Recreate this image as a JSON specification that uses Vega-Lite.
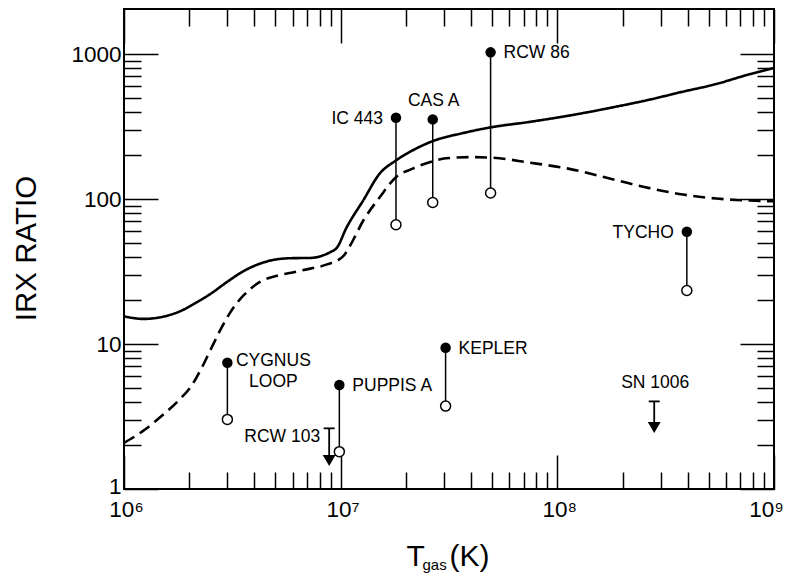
{
  "$schema": "https://vega.github.io/schema/vega-lite/v6.json",
  "width": 650,
  "height": 480,
  "autosize": {"type": "none"},
  "padding": {"left": 124, "top": 9, "right": 16, "bottom": 87},
  "background": "white",
  "config": {
    "view": {"stroke": "black", "strokeWidth": 2},
    "font": "Liberation Sans",
    "axis": {
      "grid": false,
      "domainColor": "black",
      "domainWidth": 2,
      "tickColor": "black",
      "tickWidth": 1.5,
      "labelColor": "black",
      "titleColor": "black",
      "labelFont": "Liberation Sans",
      "titleFont": "Liberation Sans",
      "titleFontWeight": "normal",
      "labelFlush": false,
      "labelOverlap": false
    }
  },
  "datasets": {
    "curves": [
      {"curve": "solid", "T": 1e6, "ratio": 15.5},
      {"curve": "solid", "T": 1.23e6, "ratio": 14.9},
      {"curve": "solid", "T": 1.76e6, "ratio": 16.5},
      {"curve": "solid", "T": 2.18e6, "ratio": 19.5},
      {"curve": "solid", "T": 2.51e6, "ratio": 22.2},
      {"curve": "solid", "T": 2.99e6, "ratio": 26.8},
      {"curve": "solid", "T": 3.56e6, "ratio": 31.8},
      {"curve": "solid", "T": 4.26e6, "ratio": 35.9},
      {"curve": "solid", "T": 5.08e6, "ratio": 38.4},
      {"curve": "solid", "T": 6.05e6, "ratio": 39.1},
      {"curve": "solid", "T": 7.23e6, "ratio": 39.2},
      {"curve": "solid", "T": 8.34e6, "ratio": 41.0},
      {"curve": "solid", "T": 8.95e6, "ratio": 43.0},
      {"curve": "solid", "T": 9.6e6, "ratio": 46.1},
      {"curve": "solid", "T": 1.064e7, "ratio": 63.5},
      {"curve": "solid", "T": 1.268e7, "ratio": 97.2},
      {"curve": "solid", "T": 1.51e7, "ratio": 149},
      {"curve": "solid", "T": 1.8e7, "ratio": 184.5},
      {"curve": "solid", "T": 2.15e7, "ratio": 216.6},
      {"curve": "solid", "T": 2.66e7, "ratio": 250.7},
      {"curve": "solid", "T": 3.65e7, "ratio": 284.5},
      {"curve": "solid", "T": 4.95e7, "ratio": 312.4},
      {"curve": "solid", "T": 7.39e7, "ratio": 339.8},
      {"curve": "solid", "T": 1.132e8, "ratio": 376},
      {"curve": "solid", "T": 1.858e8, "ratio": 432.7},
      {"curve": "solid", "T": 2.64e8, "ratio": 483},
      {"curve": "solid", "T": 3.76e8, "ratio": 548},
      {"curve": "solid", "T": 5.36e8, "ratio": 618.6},
      {"curve": "solid", "T": 7.62e8, "ratio": 721.6},
      {"curve": "solid", "T": 1e9, "ratio": 800},
      {"curve": "dashed", "T": 1e6, "ratio": 2.08},
      {"curve": "dashed", "T": 1.25e6, "ratio": 2.57},
      {"curve": "dashed", "T": 1.49e6, "ratio": 3.19},
      {"curve": "dashed", "T": 1.78e6, "ratio": 4.06},
      {"curve": "dashed", "T": 2.05e6, "ratio": 5.16},
      {"curve": "dashed", "T": 2.27e6, "ratio": 6.73},
      {"curve": "dashed", "T": 2.52e6, "ratio": 9.25},
      {"curve": "dashed", "T": 2.8e6, "ratio": 12.7},
      {"curve": "dashed", "T": 3.1e6, "ratio": 16.6},
      {"curve": "dashed", "T": 3.57e6, "ratio": 21.7},
      {"curve": "dashed", "T": 4.26e6, "ratio": 26.9},
      {"curve": "dashed", "T": 5.09e6, "ratio": 29.6},
      {"curve": "dashed", "T": 6.07e6, "ratio": 31.3},
      {"curve": "dashed", "T": 7.24e6, "ratio": 33.1},
      {"curve": "dashed", "T": 8.65e6, "ratio": 35.4},
      {"curve": "dashed", "T": 1.031e7, "ratio": 40.5},
      {"curve": "dashed", "T": 1.104e7, "ratio": 47.5},
      {"curve": "dashed", "T": 1.27e7, "ratio": 70.8},
      {"curve": "dashed", "T": 1.514e7, "ratio": 102.8},
      {"curve": "dashed", "T": 1.8e7, "ratio": 141.5},
      {"curve": "dashed", "T": 2.15e7, "ratio": 162},
      {"curve": "dashed", "T": 2.66e7, "ratio": 182.4},
      {"curve": "dashed", "T": 3.06e7, "ratio": 190.8},
      {"curve": "dashed", "T": 3.92e7, "ratio": 194.5},
      {"curve": "dashed", "T": 4.97e7, "ratio": 193},
      {"curve": "dashed", "T": 7.43e7, "ratio": 178.3},
      {"curve": "dashed", "T": 1.137e8, "ratio": 161.4},
      {"curve": "dashed", "T": 1.87e8, "ratio": 134.9},
      {"curve": "dashed", "T": 2.66e8, "ratio": 118.9},
      {"curve": "dashed", "T": 3.8e8, "ratio": 107.4},
      {"curve": "dashed", "T": 5.42e8, "ratio": 100.7},
      {"curve": "dashed", "T": 7.73e8, "ratio": 97.6},
      {"curve": "dashed", "T": 1e9, "ratio": 96.4}
    ],
    "remnants": [
      {"name": "CYGNUS LOOP", "T": 3.0e6, "hi": 7.43, "lo": 3.02, "kind": "detection"},
      {"name": "PUPPIS A", "T": 9.86e6, "hi": 5.21, "lo": 1.81, "kind": "detection"},
      {"name": "IC 443", "T": 1.8e7, "hi": 363, "lo": 66.4, "kind": "detection"},
      {"name": "CAS A", "T": 2.66e7, "hi": 354, "lo": 94.7, "kind": "detection"},
      {"name": "KEPLER", "T": 3.05e7, "hi": 9.42, "lo": 3.73, "kind": "detection"},
      {"name": "RCW 86", "T": 4.92e7, "hi": 1027, "lo": 110, "kind": "detection"},
      {"name": "TYCHO", "T": 3.96e8, "hi": 59.4, "lo": 23.4, "kind": "detection"},
      {"name": "RCW 103", "T": 8.85e6, "hi": 2.62, "lo": 1.44, "kind": "upper limit"},
      {"name": "SN 1006", "T": 2.8e8, "hi": 4.02, "lo": 2.43, "kind": "upper limit"}
    ]
  },
  "resolve": {"axis": {"x": "independent", "y": "independent"}},
  "layer": [
    {
      "data": {"name": "curves"},
      "mark": {"type": "line", "color": "black", "strokeWidth": 2.6, "interpolate": "monotone", "clip": true, "strokeCap": "butt"},
      "encoding": {
        "x": {
          "field": "T", "type": "quantitative",
          "scale": {"type": "log", "domain": [1e6, 1e9], "nice": false},
          "axis": {
            "orient": "bottom", "values": [1e6, 1e7, 1e8, 1e9], "ticks": false, "tickSize": 0, "domain": false,
            "labelPadding": 9, "labelFontSize": 22.5,
            "labelOffset": {"condition": {"test": "datum.value > 5e8", "value": -8}, "value": 2},
            "labelExpr": "datum.value < 5e6 ? '10⁶' : datum.value < 5e7 ? '10⁷' : datum.value < 5e8 ? '10⁸' : '10⁹'",
            "title": "T", "titleFontSize": 30, "titleAlign": "left",
            "titleBaseline": "alphabetic", "titleX": 282, "titleY": 76, "titleAngle": 0
          }
        },
        "y": {
          "field": "ratio", "type": "quantitative",
          "scale": {"type": "log", "domain": [1, 2044], "nice": false},
          "axis": {
            "orient": "left", "values": [1, 10, 100, 1000], "ticks": false, "tickSize": 0, "domain": false,
            "labelPadding": 3, "labelFontSize": 22.5, "format": "d",
            "labelOffset": {"condition": {"test": "datum.value < 2", "value": -3}, "value": 0},
            "title": "IRX RATIO", "titleFontSize": 29.5, "titleX": -98, "titleY": 239,
            "titleAngle": -90, "titleBaseline": "middle", "titleAlign": "center"
          }
        },
        "strokeDash": {
          "field": "curve", "type": "nominal",
          "scale": {"domain": ["solid", "dashed"], "range": [[1, 0], [12, 6.5]]},
          "legend": null
        }
      }
    },
    {
      "data": {"name": "remnants"},
      "transform": [{"filter": "datum.kind == 'detection'"}],
      "mark": {"type": "rule", "color": "black", "strokeWidth": 1.5},
      "encoding": {
        "x": {
          "field": "T", "type": "quantitative",
          "scale": {"type": "log", "domain": [1e6, 1e9], "nice": false},
          "axis": {
            "orient": "bottom", "values": [1e6, 1e7, 1e8, 1e9],
            "offset": -34, "tickSize": 34, "labels": false, "domain": false,
            "title": "gas", "titleFontSize": 15, "titleAlign": "left",
            "titleBaseline": "alphabetic", "titleX": 298, "titleY": 114, "titleAngle": 0
          }
        },
        "y": {
          "field": "lo", "type": "quantitative",
          "scale": {"type": "log", "domain": [1, 2044], "nice": false},
          "axis": {
            "orient": "left", "values": [1, 10, 100, 1000],
            "offset": -34, "tickSize": 34, "labels": false, "domain": false, "title": null
          }
        },
        "y2": {"field": "hi"}
      }
    },
    {
      "data": {"name": "remnants"},
      "transform": [{"filter": "datum.kind == 'detection'"}],
      "mark": {"type": "circle", "color": "black", "size": 110, "opacity": 1},
      "encoding": {
        "x": {
          "field": "T", "type": "quantitative",
          "scale": {"type": "log", "domain": [1e6, 1e9], "nice": false},
          "axis": {
            "orient": "bottom",
            "values": [2e6, 3e6, 4e6, 5e6, 6e6, 7e6, 8e6, 9e6, 2e7, 3e7, 4e7, 5e7, 6e7, 7e7, 8e7, 9e7, 2e8, 3e8, 4e8, 5e8, 6e8, 7e8, 8e8, 9e8],
            "offset": -17, "tickSize": 17, "labels": false, "domain": false,
            "title": "(K)", "titleFontSize": 30, "titleAlign": "left",
            "titleBaseline": "alphabetic", "titleX": 325, "titleY": 93, "titleAngle": 0
          }
        },
        "y": {
          "field": "hi", "type": "quantitative",
          "scale": {"type": "log", "domain": [1, 2044], "nice": false},
          "axis": {
            "orient": "left",
            "values": [2, 3, 4, 5, 6, 7, 8, 9, 20, 30, 40, 50, 60, 70, 80, 90, 200, 300, 400, 500, 600, 700, 800, 900],
            "offset": -17, "tickSize": 17, "labels": false, "domain": false, "title": null
          }
        }
      }
    },
    {
      "data": {"name": "remnants"},
      "transform": [{"filter": "datum.kind == 'detection'"}],
      "mark": {"type": "circle", "fill": "white", "stroke": "black", "strokeWidth": 1.5, "size": 100, "opacity": 1},
      "encoding": {
        "x": {
          "field": "T", "type": "quantitative",
          "scale": {"type": "log", "domain": [1e6, 1e9], "nice": false},
          "axis": {
            "orient": "top", "values": [1e6, 1e7, 1e8, 1e9],
            "offset": -34, "tickSize": 34, "labels": false, "domain": false, "title": null
          }
        },
        "y": {
          "field": "lo", "type": "quantitative",
          "scale": {"type": "log", "domain": [1, 2044], "nice": false},
          "axis": {
            "orient": "right", "values": [1, 10, 100, 1000],
            "offset": -34, "tickSize": 34, "labels": false, "domain": false, "title": null
          }
        }
      }
    },
    {
      "data": {"name": "remnants"},
      "transform": [{"filter": "datum.kind == 'upper limit'"}],
      "mark": {"type": "rule", "color": "black", "strokeWidth": 1.8, "y2Offset": -6},
      "encoding": {
        "x": {
          "field": "T", "type": "quantitative",
          "scale": {"type": "log", "domain": [1e6, 1e9], "nice": false},
          "axis": {
            "orient": "top",
            "values": [2e6, 3e6, 4e6, 5e6, 6e6, 7e6, 8e6, 9e6, 2e7, 3e7, 4e7, 5e7, 6e7, 7e7, 8e7, 9e7, 2e8, 3e8, 4e8, 5e8, 6e8, 7e8, 8e8, 9e8],
            "offset": -17, "tickSize": 17, "labels": false, "domain": false, "title": null
          }
        },
        "y": {
          "field": "hi", "type": "quantitative",
          "scale": {"type": "log", "domain": [1, 2044], "nice": false},
          "axis": {
            "orient": "right",
            "values": [2, 3, 4, 5, 6, 7, 8, 9, 20, 30, 40, 50, 60, 70, 80, 90, 200, 300, 400, 500, 600, 700, 800, 900],
            "offset": -17, "tickSize": 17, "labels": false, "domain": false, "title": null
          }
        },
        "y2": {"field": "lo"}
      }
    },
    {
      "data": {"name": "remnants"},
      "transform": [{"filter": "datum.kind == 'upper limit'"}],
      "mark": {"type": "rule", "color": "black", "strokeWidth": 1.8, "xOffset": -5.5, "x2Offset": 5.5},
      "encoding": {
        "x": {"field": "T", "type": "quantitative", "scale": {"type": "log", "domain": [1e6, 1e9], "nice": false}, "axis": null},
        "x2": {"field": "T"},
        "y": {"field": "hi", "type": "quantitative", "scale": {"type": "log", "domain": [1, 2044], "nice": false}, "axis": null}
      }
    },
    {
      "data": {"name": "remnants"},
      "transform": [{"filter": "datum.kind == 'upper limit'"}],
      "mark": {"type": "point", "shape": "triangle-down", "filled": true, "color": "black", "size": 165, "opacity": 1, "yOffset": -5.6},
      "encoding": {
        "x": {"field": "T", "type": "quantitative", "scale": {"type": "log", "domain": [1e6, 1e9], "nice": false}, "axis": null},
        "y": {"field": "lo", "type": "quantitative", "scale": {"type": "log", "domain": [1, 2044], "nice": false}, "axis": null}
      }
    },
    {
      "data": {"name": "remnants"},
      "transform": [{"filter": "datum.name == 'IC 443' || datum.name == 'TYCHO'"}],
      "mark": {"type": "text", "align": "right", "baseline": "middle", "dx": -13, "dy": 1, "fontSize": 17.5, "color": "black", "font": "Liberation Sans"},
      "encoding": {
        "x": {"field": "T", "type": "quantitative", "scale": {"type": "log", "domain": [1e6, 1e9], "nice": false}, "axis": null},
        "y": {"field": "hi", "type": "quantitative", "scale": {"type": "log", "domain": [1, 2044], "nice": false}, "axis": null},
        "text": {"field": "name"}
      }
    },
    {
      "data": {"name": "remnants"},
      "transform": [{"filter": "datum.name == 'RCW 86' || datum.name == 'PUPPIS A' || datum.name == 'KEPLER'"}],
      "mark": {"type": "text", "align": "left", "baseline": "middle", "dx": 13, "dy": 1, "fontSize": 17.5, "color": "black", "font": "Liberation Sans"},
      "encoding": {
        "x": {"field": "T", "type": "quantitative", "scale": {"type": "log", "domain": [1e6, 1e9], "nice": false}, "axis": null},
        "y": {"field": "hi", "type": "quantitative", "scale": {"type": "log", "domain": [1, 2044], "nice": false}, "axis": null},
        "text": {"field": "name"}
      }
    },
    {
      "data": {"name": "remnants"},
      "transform": [{"filter": "datum.name == 'CAS A' || datum.name == 'SN 1006'"}],
      "mark": {"type": "text", "align": "center", "baseline": "middle", "dx": 1, "dy": -18, "fontSize": 17.5, "color": "black", "font": "Liberation Sans"},
      "encoding": {
        "x": {"field": "T", "type": "quantitative", "scale": {"type": "log", "domain": [1e6, 1e9], "nice": false}, "axis": null},
        "y": {"field": "hi", "type": "quantitative", "scale": {"type": "log", "domain": [1, 2044], "nice": false}, "axis": null},
        "text": {"field": "name"}
      }
    },
    {
      "data": {"name": "remnants"},
      "transform": [{"filter": "datum.name == 'CYGNUS LOOP'"}],
      "mark": {"type": "text", "align": "center", "baseline": "middle", "dx": 46, "dy": -2, "lineBreak": " ", "lineHeight": 21, "fontSize": 17.5, "color": "black", "font": "Liberation Sans"},
      "encoding": {
        "x": {"field": "T", "type": "quantitative", "scale": {"type": "log", "domain": [1e6, 1e9], "nice": false}, "axis": null},
        "y": {"field": "hi", "type": "quantitative", "scale": {"type": "log", "domain": [1, 2044], "nice": false}, "axis": null},
        "text": {"field": "name"}
      }
    },
    {
      "data": {"name": "remnants"},
      "transform": [{"filter": "datum.name == 'RCW 103'"}],
      "mark": {"type": "text", "align": "right", "baseline": "middle", "dx": -9, "dy": 9, "fontSize": 17.5, "color": "black", "font": "Liberation Sans"},
      "encoding": {
        "x": {"field": "T", "type": "quantitative", "scale": {"type": "log", "domain": [1e6, 1e9], "nice": false}, "axis": null},
        "y": {"field": "hi", "type": "quantitative", "scale": {"type": "log", "domain": [1, 2044], "nice": false}, "axis": null},
        "text": {"field": "name"}
      }
    }
  ]
}
